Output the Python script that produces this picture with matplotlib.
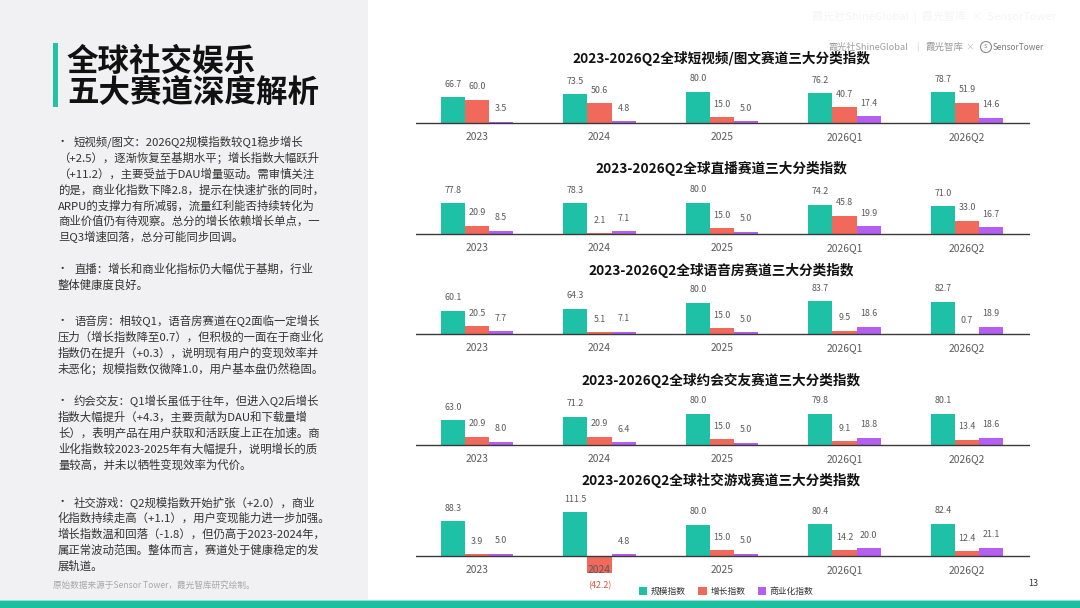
import matplotlib
matplotlib.use('Agg')
import matplotlib.pyplot as plt
from matplotlib.patches import Rectangle, Circle
import numpy as np

plt.rcParams['font.family'] = ['Noto Sans CJK SC', 'DejaVu Sans']

W, H = 1080, 608

# ---- data ----
periods = ['2023', '2024', '2025', '2026Q1', '2026Q2']
series_names = ['规模指数', '增长指数', '商业化指数']

titles = [
    '2023-2026Q2全球短视频/图文赛道三大分类指数',
    '2023-2026Q2全球直播赛道三大分类指数',
    '2023-2026Q2全球语音房赛道三大分类指数',
    '2023-2026Q2全球约会交友赛道三大分类指数',
    '2023-2026Q2全球社交游戏赛道三大分类指数',
]

video_scale = [66.7, 73.5, 80.0, 76.2, 78.7]
video_growth = [60.0, 50.6, 15.0, 40.7, 51.9]
video_monet = [3.5, 4.8, 5.0, 17.4, 14.6]

live_scale = [77.8, 78.3, 80.0, 74.2, 71.0]
live_growth = [20.9, 2.1, 15.0, 45.8, 33.0]
live_monet = [8.5, 7.1, 5.0, 19.9, 16.7]

voice_scale = [60.1, 64.3, 80.0, 83.7, 82.7]
voice_growth = [20.5, 5.1, 15.0, 9.5, 0.7]
voice_monet = [7.7, 7.1, 5.0, 18.6, 18.9]

dating_scale = [63.0, 71.2, 80.0, 79.8, 80.1]
dating_growth = [20.9, 20.9, 15.0, 9.1, 13.4]
dating_monet = [8.0, 6.4, 5.0, 18.8, 18.6]

game_scale = [88.3, 111.5, 80.0, 80.4, 82.4]
game_growth = [3.9, -42.2, 15.0, 14.2, 12.4]
game_monet = [5.0, 4.8, 5.0, 20.0, 21.1]

panels = [
    (video_scale, video_growth, video_monet),
    (live_scale, live_growth, live_monet),
    (voice_scale, voice_growth, voice_monet),
    (dating_scale, dating_growth, dating_monet),
    (game_scale, game_growth, game_monet),
]

paragraphs = [
    ['短视频/图文：2026Q2规模指数较Q1稳步增长',
     '（+2.5），逐渐恢复至基期水平；增长指数大幅跃升',
     '（+11.2），主要受益于DAU增量驱动。需审慎关注',
     '的是，商业化指数下降2.8，提示在快速扩张的同时，',
     'ARPU的支撑力有所减弱，流量红利能否持续转化为',
     '商业价值仍有待观察。总分的增长依赖增长单点，一',
     '旦Q3增速回落，总分可能同步回调。'],
    ['直播：增长和商业化指标仍大幅优于基期，行业',
     '整体健康度良好。'],
    ['语音房：相较Q1，语音房赛道在Q2面临一定增长',
     '压力（增长指数降至0.7），但积极的一面在于商业化',
     '指数仍在提升（+0.3），说明现有用户的变现效率并',
     '未恶化；规模指数仅微降1.0，用户基本盘仍然稳固。'],
    ['约会交友：Q1增长虽低于往年，但进入Q2后增长',
     '指数大幅提升（+4.3，主要贡献为DAU和下载量增',
     '长），表明产品在用户获取和活跃度上正在加速。商',
     '业化指数较2023-2025年有大幅提升，说明增长的质',
     '量较高，并未以牺牲变现效率为代价。'],
    ['社交游戏：Q2规模指数开始扩张（+2.0），商业',
     '化指数持续走高（+1.1），用户变现能力进一步加强。',
     '增长指数温和回落（-1.8），但仍高于2023-2024年，',
     '属正常波动范围。整体而言，赛道处于健康稳定的发',
     '展轨道。'],
]
para_top = [142, 269, 321, 401, 502]

colors = ['#1ec0a6', '#f0695a', '#b45ef2']
label_gray = '#5a5a5a'

fig = plt.figure(figsize=(W / 100, H / 100), dpi=100)
fig.patch.set_facecolor('white')

# background / decoration layer in pixel coordinates
bg = fig.add_axes([0, 0, 1, 1])
bg.set_xlim(0, W)
bg.set_ylim(H, 0)
bg.axis('off')
bg.add_patch(Rectangle((0, 0), 368, 601, fc='#f1f1f3', ec='none'))
bg.add_patch(Rectangle((0, 600.5), W, 8, fc='#1dbfa1', ec='none'))
bg.add_patch(Rectangle((0, 600), W, 1, fc='#8fe3d3', ec='none'))
bg.add_patch(Rectangle((53, 43), 5, 64, fc='#22c2a5', ec='none'))

bg.text(67, 62, '全球社交娱乐', fontsize=22.7, fontweight='heavy', color='#111111',
        ha='left', va='center')
bg.text(67, 93, '五大赛道深度解析', fontsize=22.7, fontweight='heavy', color='#111111',
        ha='left', va='center')

line_gap = 15.9
for top, lines in zip(para_top, paragraphs):
    for k, line in enumerate(lines):
        y = top + k * line_gap
        if k == 0:
            bg.text(56.5, y, '・', fontsize=8.2, color='#333333', ha='left', va='center')
            bg.text(74, y, line, fontsize=8.2, color='#333333', ha='left', va='center')
        else:
            bg.text(58, y, line, fontsize=8.2, color='#333333', ha='left', va='center')

bg.text(53, 585, '原始数据来源于Sensor Tower，霞光智库研究绘制。', fontsize=6.2,
        color='#a8a8a8', ha='left', va='center')

# branding, top right
bg.text(934, 17, '霞光社ShineGlobal  |  霞光智库  ×  SensorTower', fontsize=8,
        color='#f5f5f5', ha='center', va='center')
bg.text(828, 47, '霞光社ShineGlobal', fontsize=6.6, color='#9e9e9e', ha='left', va='center')
bg.text(917, 47, '|', fontsize=6.4, color='#d0d0d0', ha='center', va='center')
bg.text(925, 47, '霞光智库', fontsize=6.8, color='#9e9e9e', ha='left', va='center')
bg.text(970, 47, '×', fontsize=6.4, color='#c0c0c0', ha='center', va='center')
bg.add_patch(Circle((986, 47), 5.5, fc='none', ec='#8a8a8a', lw=0.8))
bg.text(986, 46.5, 's', fontsize=5.5, color='#8a8a8a', ha='center', va='center')
bg.text(993, 47, 'SensorTower', fontsize=6, color='#7a7a7a', ha='left', va='center')

bg.text(1033, 584, '13', fontsize=6.5, color='#333333', ha='center', va='center')

# ---- charts ----
baselines = [123.3, 234, 334.3, 445, 556]
title_y = [58, 168, 270, 380, 480]
px_per_unit = 0.393
left_px, right_px = 416, 1030
group_gap = 122.5
first_center = 477
above_px, below_px = 60, 20

x = np.arange(len(periods))
offsets = [-0.196, 0.0, 0.196]
bar_w = 0.196

bar_handles = None
for p, (vals3, b, ty, title) in enumerate(zip(panels, baselines, title_y, titles)):
    ax = fig.add_axes([left_px / W, 1 - (b + below_px) / H,
                       (right_px - left_px) / W, (above_px + below_px) / H])
    ax.set_xlim(-(first_center - left_px) / group_gap,
                (right_px - first_center) / group_gap)
    ax.set_ylim(-below_px / px_per_unit, above_px / px_per_unit)
    ax.axis('off')
    ax.patch.set_alpha(0)

    handles = []
    for vals, off, col in zip(vals3, offsets, colors):
        bars = ax.bar(x + off, vals, width=bar_w, color=col, zorder=2)
        handles.append(bars)
        for xi, v in zip(x + off, vals):
            if v >= 0:
                ax.annotate(f'{v:.1f}', (xi, v), xytext=(0, 9.4),
                            textcoords='offset points', ha='center', va='center',
                            fontsize=6.4, color=label_gray, annotation_clip=False)
            else:
                ax.annotate(f'({abs(v):.1f})', (xi, v), xytext=(0, -9.4),
                            textcoords='offset points', ha='center', va='center',
                            fontsize=6.4, color='#e0503f', annotation_clip=False)
    if bar_handles is None:
        bar_handles = handles

    ax.axhline(0, color='#3a3a3a', lw=1.0, zorder=3)
    for xi, lab in zip(x, periods):
        ax.annotate(lab, (xi, 0), xytext=(0, -10.1), textcoords='offset points',
                    ha='center', va='center', fontsize=7.4, color=label_gray,
                    annotation_clip=False, zorder=4)

    bg.text((left_px + right_px) / 2 - 2, ty, title, fontsize=9.8, fontweight='bold',
            color='#111111', ha='center', va='center')

fig.legend(bar_handles, series_names, loc='center',
           bbox_to_anchor=(726 / W, 1 - 591.5 / H), ncol=3, frameon=False,
           fontsize=6.3, handlelength=1.0, handleheight=1.0,
           handletextpad=0.4, columnspacing=1.4, borderpad=0, labelcolor='#333333')

fig.savefig('out.png', dpi=100)
